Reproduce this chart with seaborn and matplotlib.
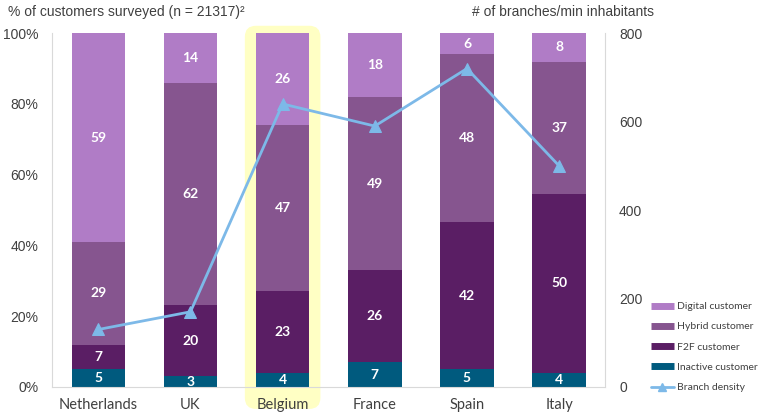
import numpy as np
import pandas as pd
import matplotlib
matplotlib.use("Agg")
import matplotlib.pyplot as plt
import seaborn as sns
from matplotlib.patches import FancyBboxPatch
from matplotlib.lines import Line2D
import matplotlib.transforms as mtransforms

# data
countries = ["Netherlands", "UK", "Belgium", "France", "Spain", "Italy"]
inactive = [5, 3, 4, 7, 5, 4]
f2f = [7, 20, 23, 26, 42, 50]
hybrid = [29, 62, 47, 49, 48, 37]
digital = [59, 14, 26, 18, 6, 8]
density = [130, 170, 640, 590, 720, 500]

segments = [
    ("Inactive customer", inactive, "#005a7e"),
    ("F2F customer", f2f, "#5a1e64"),
    ("Hybrid customer", hybrid, "#86558f"),
    ("Digital customer", digital, "#b07cc6"),
]

sns.set_theme(style="white")
plt.rcParams["font.family"] = ["Liberation Sans", "DejaVu Sans"]

fig = plt.figure(figsize=(7.68, 4.15), dpi=100)
ax = fig.add_axes([0.068, 0.0675, 0.72, 0.8525])

# highlight behind Belgium
trans = mtransforms.blended_transform_factory(ax.transData, ax.transAxes)
hl = FancyBboxPatch((2 - 0.41, -0.062), 0.82, 1.083,
                    boxstyle="round,pad=0,rounding_size=0.12",
                    transform=trans, facecolor="#ffffc4", edgecolor="none",
                    clip_on=False, zorder=0, mutation_aspect=0.26)
ax.add_patch(hl)

# shares are rounded, so scale each column to a full 100%
totals = np.sum([s[1] for s in segments], axis=0).astype(float)
bottom = np.zeros(len(countries))
for name, vals, col in segments:
    vals = np.array(vals, dtype=float)
    h = vals / totals * 100
    sns.barplot(x=countries, y=h, bottom=bottom, color=col, width=0.58,
                ax=ax, saturation=1, zorder=2, linewidth=0)
    for i, v in enumerate(vals):
        ax.text(i, bottom[i] + h[i] / 2, f"{int(v)}", ha="center", va="center",
                color="white", fontsize=10, fontweight="bold",
                family=["Lato", "DejaVu Sans"], zorder=3)
    bottom += h

ax.set_ylim(0, 100)
ax.set_xlim(-0.5, 5.5)
ax.set_yticks(range(0, 101, 20))
ax.set_yticklabels([f"{t}%" for t in range(0, 101, 20)])
ax.tick_params(axis="y", labelsize=10, colors="#404040", length=0, pad=10)
ax.tick_params(axis="x", labelsize=10.5, colors="#404040", length=0, pad=8)
for lbl in ax.get_xticklabels():
    lbl.set_family(["Lato", "DejaVu Sans"])
for s in ["top", "right"]:
    ax.spines[s].set_visible(False)
for s in ["left", "bottom"]:
    ax.spines[s].set_color("#d9d9d9")
    ax.spines[s].set_linewidth(0.8)
ax.set_xlabel("")
ax.set_ylabel("")

ax2 = ax.twinx()
line_col = "#7db9e8"
sns.lineplot(x=np.arange(len(countries)), y=density, ax=ax2, color=line_col,
             marker="^", markersize=8, markeredgecolor=line_col, linewidth=2,
             zorder=4)
ax2.set_ylim(0, 800)
ax2.set_yticks(range(0, 801, 200))
ax2.tick_params(axis="y", labelsize=10, colors="#404040", length=0, pad=10)
for s in ["top", "left", "bottom"]:
    ax2.spines[s].set_visible(False)
ax2.spines["right"].set_color("#d9d9d9")
ax2.spines["right"].set_linewidth(0.8)
ax2.set_ylabel("")
ax2.grid(False)
ax.grid(False)

fig.text(0.01, 0.97, "% of customers surveyed (n = 21317)\u00b2", fontsize=10,
         color="#404040", va="center", ha="left")
fig.text(0.615, 0.97, "# of branches/min inhabitants", fontsize=10,
         color="#404040", va="center", ha="left")

handles = [Line2D([0], [0], color=c, lw=5, solid_capstyle="butt")
           for _, _, c in segments[::-1]]
labels = [n for n, _, _ in segments[::-1]]
handles.append(Line2D([0], [0], color=line_col, lw=2, marker="^", markersize=6))
labels.append("Branch density")
leg = fig.legend(handles, labels, loc="lower left", bbox_to_anchor=(0.842, 0.045),
                 frameon=False, fontsize=7.5, handlelength=2.2,
                 labelspacing=1.05, handletextpad=0.3, borderaxespad=0)
for t in leg.get_texts():
    t.set_color("#404040")
    t.set_family(["Lato", "DejaVu Sans"])

fig.savefig("out.png", dpi=100)
